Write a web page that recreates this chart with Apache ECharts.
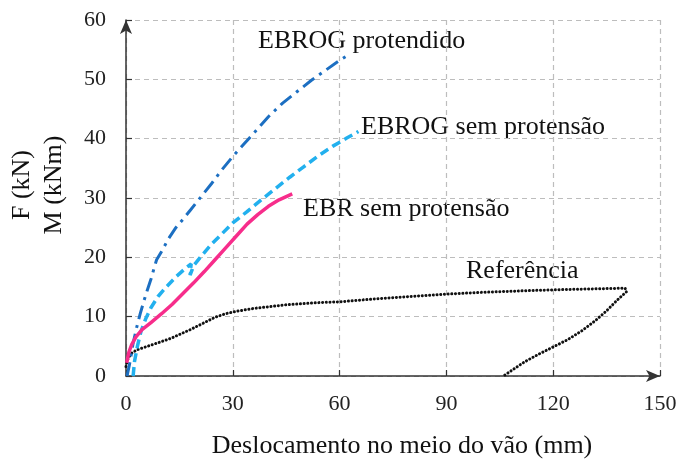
<!DOCTYPE html>
<html>
<head>
<meta charset="utf-8">
<script src="https://cdn.jsdelivr.net/npm/echarts@6/dist/echarts.min.js"></script>
<style>
  html, body { margin: 0; padding: 0; background: #fff; }
  #chart { width: 678px; height: 461px; }
</style>
</head>
<body>
<div id="chart"></div>
<script>
// ---- Data (x: deslocamento mm, y: força kN) ----
const xTicks = [0, 30, 60, 90, 120, 150];
const yTicks = [0, 10, 20, 30, 40, 50, 60];

const ebrogProtendido = [
  [0.3, 0], [1.0, 2.0], [2.0, 5.5], [3.0, 8.2], [4.0, 10.5], [5.0, 12.6], [6.0, 14.5],
  [7.0, 16.3], [8.0, 18.4], [8.6, 19.6], [10.0, 21.0], [12.0, 23.2], [14.0, 25.0],
  [16.0, 26.4], [18.0, 27.9], [20.0, 29.4], [24.0, 32.4], [27.0, 34.8], [30.0, 37.0],
  [33.0, 39.0], [36.0, 41.0], [40.0, 43.7], [44.0, 46.0], [48.0, 47.9], [52.0, 49.8],
  [56.0, 51.5], [60.0, 53.2], [62.4, 54.1]
];

const ebrogSemProtensao = [
  [2.0, 0], [2.4, 2.5], [3.2, 5.0], [4.2, 7.5], [5.5, 9.6], [7.0, 11.5], [9.0, 13.4],
  [11.0, 14.8], [14.0, 16.7], [17.0, 18.3], [18.3, 18.9], [18.0, 17.0], [19.0, 18.6],
  [21.0, 20.1], [24.0, 22.2], [27.0, 24.0], [30.0, 25.8], [34.0, 27.7], [38.0, 29.7],
  [42.0, 31.6], [46.0, 33.5], [50.0, 35.3], [54.0, 37.1], [58.0, 38.7], [62.0, 40.1],
  [65.3, 41.2]
];

const ebrSemProtensao = [
  [0.2, 2.2], [0.8, 4.0], [1.6, 5.3], [2.8, 6.6], [4.5, 7.8], [7.0, 9.0], [10.0, 10.5],
  [13.0, 12.1], [16.0, 13.9], [19.0, 15.7], [22.0, 17.6], [25.0, 19.6], [28.0, 21.6],
  [31.0, 23.6], [34.0, 25.6], [37.0, 27.2], [40.0, 28.6], [43.0, 29.7], [46.7, 30.7]
];

const referencia = [
  [0, 1.6], [0.6, 3.0], [1.5, 3.8], [3.0, 4.4], [6.0, 5.0], [9.0, 5.6], [12.4, 6.3],
  [15.0, 7.0], [18.0, 7.8], [21.7, 8.9], [25.0, 9.9], [28.0, 10.5], [31.0, 10.9],
  [36.0, 11.4], [45.0, 12.0], [55.0, 12.4], [60.0, 12.5], [70.0, 13.0], [80.0, 13.4],
  [90.0, 13.8], [100.0, 14.1], [113.5, 14.4], [125.0, 14.6], [140.2, 14.8], [140.6, 14.2],
  [138.0, 12.8], [135.0, 11.0], [132.0, 9.4], [128.0, 7.6], [124.0, 6.1], [120.0, 4.9],
  [116.0, 3.7], [112.0, 2.4], [108.5, 1.0], [106.0, 0]
];

const seriesNames = ['EBROG protendido', 'EBROG sem protensão', 'EBR sem protensão', 'Referência'];

// ---- Chart ----
const chart = echarts.init(document.getElementById('chart'), null, { renderer: 'canvas' });
const FONT = '"Liberation Serif", "Times New Roman", serif';
const axisColor = '#333';

const option = {
  backgroundColor: '#fff',
  animation: false,
  textStyle: { fontFamily: FONT },
  grid: { left: 126, right: 18, top: 20, bottom: 85, containLabel: false, outerBoundsMode: 'none' },
  xAxis: {
    type: 'value',
    min: xTicks[0],
    max: xTicks[xTicks.length - 1],
    interval: xTicks[1] - xTicks[0],
    name: 'Deslocamento no meio do vão (mm)',
    nameLocation: 'middle',
    nameGap: 57,
    nameTextStyle: { fontFamily: FONT, fontSize: 26, color: '#111', padding: [0, 0, 0, 18] },
    axisLine: { show: true, symbol: ['none', 'arrow'], symbolSize: [9, 14], symbolOffset: [0, 0],
      lineStyle: { color: axisColor, width: 1.5 } },
    axisTick: { show: true, inside: true, length: 6, lineStyle: { color: axisColor, width: 1.2 } },
    axisLabel: { fontFamily: FONT, fontSize: 22, color: '#222', margin: 17 },
    splitLine: { show: true, lineStyle: { color: '#bdbdbd', type: [5, 4], width: 1.2 } }
  },
  yAxis: {
    type: 'value',
    min: yTicks[0],
    max: yTicks[yTicks.length - 1],
    interval: yTicks[1] - yTicks[0],
    name: 'F (kN)\nM (kNm)',
    nameLocation: 'middle',
    nameGap: 56,
    nameRotate: 90,
    nameTextStyle: { fontFamily: FONT, fontSize: 26, color: '#111', lineHeight: 32, align: 'center',
      padding: [0, 0, 0, 26] },
    axisLine: { show: true, symbol: ['none', 'arrow'], symbolSize: [9, 14], symbolOffset: [0, 0],
      lineStyle: { color: axisColor, width: 1.5 } },
    axisTick: { show: true, inside: true, length: 6, lineStyle: { color: axisColor, width: 1.2 } },
    axisLabel: { fontFamily: FONT, fontSize: 22, color: '#222', margin: 20 },
    splitLine: { show: true, lineStyle: { color: '#bdbdbd', type: [5, 4], width: 1.2 } }
  },
  series: [
    {
      name: seriesNames[0], type: 'line', data: ebrogProtendido, showSymbol: false, smooth: false,
      lineStyle: { color: '#1c6fc2', width: 3, type: [14, 6, 3, 6] }, z: 4
    },
    {
      name: seriesNames[1], type: 'line', data: ebrogSemProtensao, showSymbol: false, smooth: false,
      lineStyle: { color: '#22b0ee', width: 3.5, type: [9, 5] }, z: 3
    },
    {
      name: seriesNames[2], type: 'line', data: ebrSemProtensao, showSymbol: false, smooth: false,
      lineStyle: { color: '#f72d8b', width: 3.5, type: 'solid', join: 'round' }, z: 5
    },
    {
      name: seriesNames[3], type: 'line', data: referencia, showSymbol: false, smooth: false,
      lineStyle: { color: '#111', width: 3, type: [0.1, 3.6], cap: 'round' }, z: 2
    }
  ],
  graphic: [
    { type: 'text', left: 258, top: 28, style: { text: seriesNames[0], font: '26px ' + FONT, fill: '#111' } },
    { type: 'text', left: 361, top: 114, style: { text: seriesNames[1], font: '26px ' + FONT, fill: '#111' } },
    { type: 'text', left: 303, top: 196, style: { text: seriesNames[2], font: '26px ' + FONT, fill: '#111' } },
    { type: 'text', left: 466, top: 258, style: { text: seriesNames[3], font: '26px ' + FONT, fill: '#111' } }
  ]
};

chart.setOption(option);
</script>
</body>
</html>
